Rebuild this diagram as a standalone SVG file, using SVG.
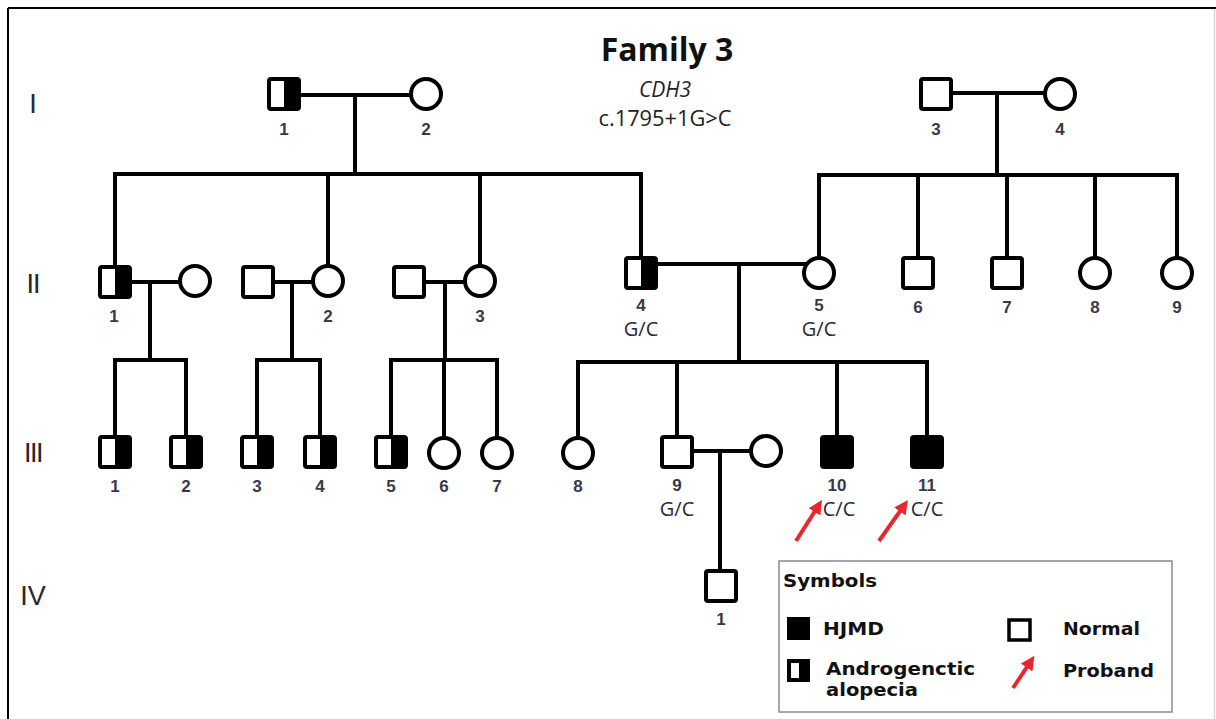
<svg xmlns="http://www.w3.org/2000/svg" xmlns:xlink="http://www.w3.org/1999/xlink" width="1216" height="719" viewBox="0 0 1216 719">
  <style>
    .ln { stroke: #000; stroke-width: 4; fill: none; stroke-linecap: square; }
    .num { font-family: "Liberation Sans", Arial, sans-serif; font-size: 17px; font-weight: bold; fill: #3a3848; text-anchor: middle; }
    .geno { font-family: "Open Sans", "Noto Sans", sans-serif; font-size: 20px; fill: #2a2a35; text-anchor: middle; }
    .gen { font-family: "Liberation Sans", Arial, sans-serif; font-size: 27px; fill: #26262e; text-anchor: middle; }
    .leg { font-family: "DejaVu Sans", Verdana, sans-serif; font-size: 18px; font-weight: bold; fill: #111; }
    .arrow { stroke: #e8262d; stroke-width: 4; fill: none; marker-end: url(#head); }
  </style>
  <defs>
    <marker id="head" viewBox="0 0 12 12" refX="6" refY="6" markerWidth="3.5" markerHeight="3.5" markerUnits="strokeWidth" orient="auto">
      <path d="M0,0 L12,6 L0,12 z" fill="#e8262d"/>
    </marker>
    <!-- pedigree symbols, centred on the origin -->
    <g id="male">
      <rect x="-15" y="-15" width="30" height="30" rx="2" fill="#fff" stroke="#000" stroke-width="4"/>
    </g>
    <g id="female">
      <circle cx="0" cy="0" r="15" fill="#fff" stroke="#000" stroke-width="4"/>
    </g>
    <g id="half">
      <rect x="-15" y="-15" width="30" height="30" rx="2" fill="#fff" stroke="#000" stroke-width="4"/>
      <rect x="0" y="-15" width="15" height="30" fill="#000"/>
    </g>
    <g id="affected">
      <rect x="-15" y="-15" width="30" height="30" rx="2" fill="#000" stroke="#000" stroke-width="4"/>
    </g>
  </defs>

  <rect x="0" y="0" width="1216" height="719" fill="#fff"/>
  <!-- frame -->
  <line x1="8" y1="8" x2="1216" y2="8" stroke="#000" stroke-width="2"/>
  <line x1="8" y1="8" x2="8" y2="719" stroke="#000" stroke-width="2"/>
  <line x1="1214.5" y1="9" x2="1214.5" y2="719" stroke="#d8d8d8" stroke-width="1.5"/>

  <!-- heading -->
  <g id="title">
    <text x="667" y="61" font-family="'Open Sans', 'Noto Sans', sans-serif" font-size="32" font-weight="bold" fill="#111" text-anchor="middle">Family 3</text>
    <text x="665" y="97" font-family="'Open Sans', 'Noto Sans', sans-serif" font-size="21" font-style="italic" fill="#222" text-anchor="middle">CDH3</text>
    <text x="665" y="126" font-family="'Open Sans', 'Noto Sans', sans-serif" font-size="21" fill="#222" text-anchor="middle" textLength="133" lengthAdjust="spacingAndGlyphs">c.1795+1G&gt;C</text>
  </g>

  <!-- generation numerals -->
  <g id="generations">
    <text class="gen" x="33" y="113">I</text>
    <text class="gen" x="33" y="293" letter-spacing="-1">II</text>
    <text class="gen" x="33" y="462" letter-spacing="-1.5">III</text>
    <text class="gen" x="33" y="605">IV</text>
  </g>

  <!-- lines of descent -->
  <g id="connectors" class="ln">
    <!-- I-1 x I-2 -->
    <path d="M284 95 H426 M355 95 V174 M115 174 H641 M115 174 V282 M328 174 V281 M480 174 V281 M641 174 V273"/>
    <!-- I-3 x I-4 -->
    <path d="M936 93 H1060 M997 93 V175 M819 175 H1177 M819 175 V273 M918 175 V273 M1007 175 V273 M1095 175 V273 M1177 175 V273"/>
    <!-- II-1 family -->
    <path d="M115 282 H195 M150 282 V360 M115 360 H186 M115 360 V452 M186 360 V452"/>
    <!-- II-2 family -->
    <path d="M258 282 H328 M292 282 V360 M257 360 H320 M257 360 V452 M320 360 V452"/>
    <!-- II-3 family -->
    <path d="M409 282 H480 M445 282 V360 M391 360 H497 M391 360 V452 M444 360 V453 M497 360 V453"/>
    <!-- II-4 x II-5 -->
    <path d="M641 264 H819 M739 264 V362 M578 362 H927 M578 362 V453 M677 362 V452 M837 362 V452 M927 362 V452"/>
    <!-- III-9 family -->
    <path d="M677 451 H766 M720 451 V586"/>
  </g>

  <!-- generation I -->
  <g id="I-1"><use xlink:href="#half" x="284" y="94"/><text class="num" x="284" y="135">1</text></g>
  <g id="I-2"><use xlink:href="#female" x="426" y="94"/><text class="num" x="426" y="135">2</text></g>
  <g id="I-3"><use xlink:href="#male" x="936" y="94"/><text class="num" x="936" y="135">3</text></g>
  <g id="I-4"><use xlink:href="#female" x="1060" y="94"/><text class="num" x="1060" y="135">4</text></g>

  <!-- generation II -->
  <g id="II-1"><use xlink:href="#half" x="115" y="282"/><text class="num" x="114" y="322">1</text></g>
  <g id="II-1-spouse"><use xlink:href="#female" x="195" y="281"/></g>
  <g id="II-2-spouse"><use xlink:href="#male" x="258" y="282"/></g>
  <g id="II-2"><use xlink:href="#female" x="328" y="281"/><text class="num" x="328" y="322">2</text></g>
  <g id="II-3-spouse"><use xlink:href="#male" x="409" y="282"/></g>
  <g id="II-3"><use xlink:href="#female" x="480" y="281"/><text class="num" x="480" y="322">3</text></g>
  <g id="II-4"><use xlink:href="#half" x="641" y="273"/><text class="num" x="641" y="311">4</text><text class="geno" x="641" y="336">G/C</text></g>
  <g id="II-5"><use xlink:href="#female" x="819" y="273"/><text class="num" x="819" y="311">5</text><text class="geno" x="819" y="336">G/C</text></g>
  <g id="II-6"><use xlink:href="#male" x="918" y="273"/><text class="num" x="918" y="313">6</text></g>
  <g id="II-7"><use xlink:href="#male" x="1007" y="273"/><text class="num" x="1007" y="313">7</text></g>
  <g id="II-8"><use xlink:href="#female" x="1095" y="273"/><text class="num" x="1095" y="313">8</text></g>
  <g id="II-9"><use xlink:href="#female" x="1177" y="273"/><text class="num" x="1177" y="313">9</text></g>

  <!-- generation III -->
  <g id="III-1"><use xlink:href="#half" x="115" y="452"/><text class="num" x="115" y="492">1</text></g>
  <g id="III-2"><use xlink:href="#half" x="186" y="452"/><text class="num" x="186" y="492">2</text></g>
  <g id="III-3"><use xlink:href="#half" x="257" y="452"/><text class="num" x="257" y="492">3</text></g>
  <g id="III-4"><use xlink:href="#half" x="320" y="452"/><text class="num" x="320" y="492">4</text></g>
  <g id="III-5"><use xlink:href="#half" x="391" y="452"/><text class="num" x="391" y="492">5</text></g>
  <g id="III-6"><use xlink:href="#female" x="444" y="453"/><text class="num" x="444" y="492">6</text></g>
  <g id="III-7"><use xlink:href="#female" x="497" y="453"/><text class="num" x="497" y="492">7</text></g>
  <g id="III-8"><use xlink:href="#female" x="578" y="453"/><text class="num" x="578" y="492">8</text></g>
  <g id="III-9"><use xlink:href="#male" x="677" y="452"/><text class="num" x="677" y="491">9</text><text class="geno" x="677" y="516">G/C</text></g>
  <g id="III-9-spouse"><use xlink:href="#female" x="766" y="451"/></g>
  <g id="III-10"><use xlink:href="#affected" x="837" y="452"/><text class="num" x="837" y="491">10</text><text class="geno" x="839" y="516">C/C</text></g>
  <g id="III-11"><use xlink:href="#affected" x="927" y="452"/><text class="num" x="927" y="491">11</text><text class="geno" x="927" y="516">C/C</text></g>

  <!-- proband arrows -->
  <g id="probands">
    <line class="arrow" x1="796" y1="541" x2="818.2" y2="506"/>
    <line class="arrow" x1="879" y1="541" x2="903.9" y2="505.7"/>
  </g>

  <!-- generation IV -->
  <g id="IV-1"><use xlink:href="#male" x="721" y="586"/><text class="num" x="721" y="625">1</text></g>

  <!-- key -->
  <g id="legend">
    <rect x="779" y="561" width="393" height="151" fill="#fff" stroke="#8a8a8a" stroke-width="1.5"/>
    <text class="leg" x="783" y="587" font-size="19" textLength="94" lengthAdjust="spacingAndGlyphs">Symbols</text>
    <rect x="788.5" y="618.5" width="20" height="20" fill="#000" stroke="#000" stroke-width="3"/>
    <text class="leg" x="823" y="635" textLength="61" lengthAdjust="spacingAndGlyphs">HJMD</text>
    <rect x="789" y="661" width="19" height="19" fill="#fff" stroke="#000" stroke-width="4"/>
    <rect x="799" y="661" width="9" height="19" fill="#000"/>
    <text class="leg" x="826" y="675" textLength="149" lengthAdjust="spacingAndGlyphs">Androgenctic</text>
    <text class="leg" x="826" y="696" textLength="92" lengthAdjust="spacingAndGlyphs">alopecia</text>
    <rect x="1009" y="620" width="21" height="20" fill="#fff" stroke="#000" stroke-width="3.5"/>
    <text class="leg" x="1063" y="635" textLength="77" lengthAdjust="spacingAndGlyphs">Normal</text>
    <line class="arrow" x1="1013" y1="688" x2="1030.5" y2="661.7" stroke-width="3"/>
    <text class="leg" x="1063" y="677" textLength="91" lengthAdjust="spacingAndGlyphs">Proband</text>
  </g>
</svg>
